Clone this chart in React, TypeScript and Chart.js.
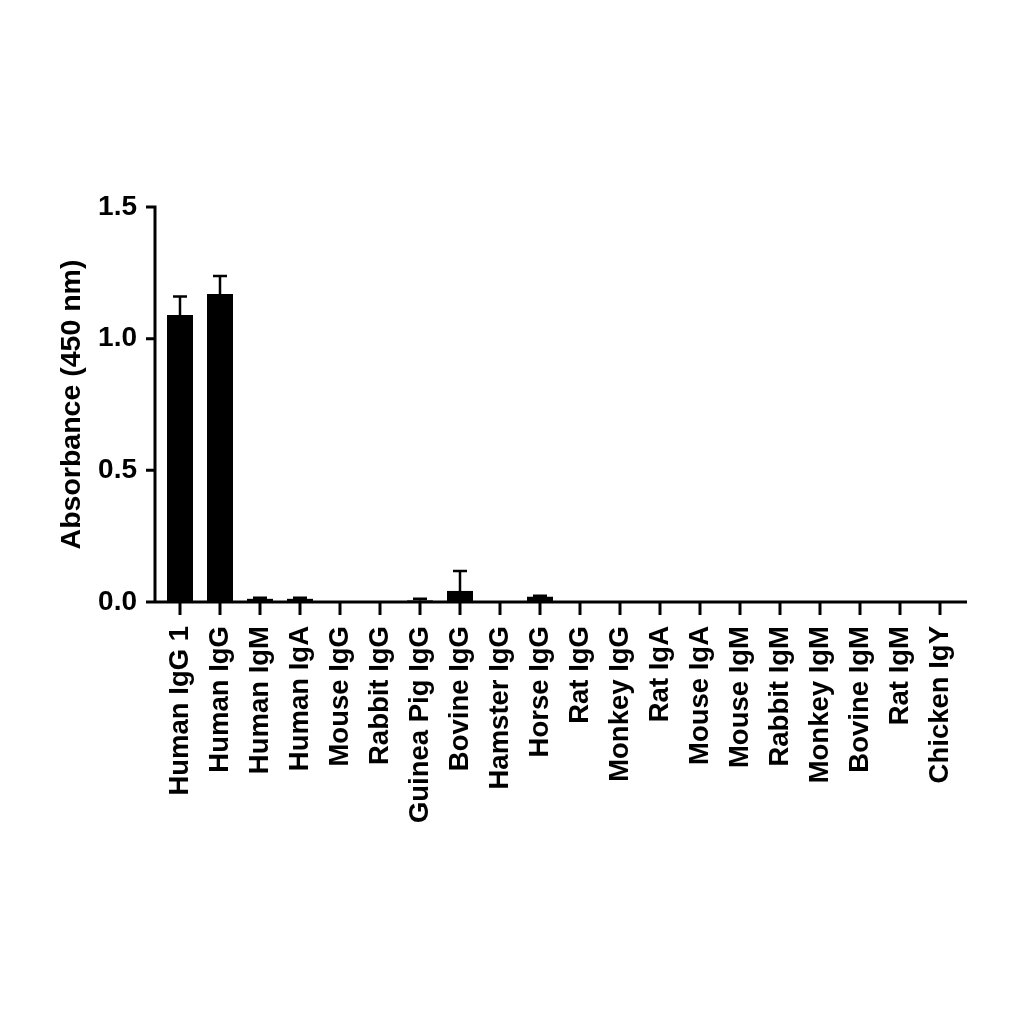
import React, { useEffect, useRef } from "react";
import { Chart, registerables } from "chart.js";

Chart.register(...registerables);

const categories = [
  "Human IgG 1", "Human IgG", "Human IgM", "Human IgA", "Mouse IgG",
  "Rabbit IgG", "Guinea Pig IgG", "Bovine IgG", "Hamster IgG", "Horse IgG",
  "Rat IgG", "Monkey IgG", "Rat IgA", "Mouse IgA", "Mouse IgM",
  "Rabbit IgM", "Monkey IgM", "Bovine IgM", "Rat IgM", "Chicken IgY",
];
const absorbance = [
  1.09, 1.17, 0.012, 0.012, 0, 0, 0.006, 0.042, 0, 0.02,
  0, 0, 0.003, 0, 0, 0, 0, 0, 0, 0,
];
const errorUpper = [
  0.07, 0.068, 0.004, 0.004, 0, 0, 0.006, 0.076, 0, 0.004,
  0, 0, 0, 0, 0, 0, 0, 0, 0, 0,
];
const yTicks = [0, 0.5, 1.0, 1.5];

const FONT = "'Liberation Sans', Arial, sans-serif";

const axesPlugin = {
  id: "customAxes",
  afterDatasetsDraw(chart: any) {
    const ctx = chart.ctx;
    const xs = chart.scales.x;
    const ys = chart.scales.y;
    const area = chart.chartArea;
    const y0 = ys.getPixelForValue(0);
    const yTop = ys.getPixelForValue(yTicks[yTicks.length - 1]);
    const axisX = area.left - 5;
    const axisRight = area.right + 7;
    ctx.save();
    ctx.strokeStyle = "#000";
    ctx.lineCap = "butt";

    // error bars
    const meta = chart.getDatasetMeta(0);
    ctx.lineWidth = 2.5;
    meta.data.forEach((bar: any, i: number) => {
      const e = errorUpper[i];
      if (!e) return;
      const yv = ys.getPixelForValue(absorbance[i]);
      const ye = ys.getPixelForValue(absorbance[i] + e);
      ctx.beginPath();
      ctx.moveTo(bar.x, yv);
      ctx.lineTo(bar.x, ye);
      ctx.moveTo(bar.x - 7, ye);
      ctx.lineTo(bar.x + 7, ye);
      ctx.stroke();
    });

    // axes
    ctx.lineWidth = 3;
    ctx.beginPath();
    ctx.moveTo(axisX, yTop - 1.5);
    ctx.lineTo(axisX, y0 + 1.5);
    ctx.moveTo(axisX - 1.5, y0);
    ctx.lineTo(axisRight, y0);
    // y ticks
    yTicks.forEach((v) => {
      const py = ys.getPixelForValue(v);
      ctx.moveTo(axisX - 9, py);
      ctx.lineTo(axisX, py);
    });
    // x ticks
    categories.forEach((_, i) => {
      const px = xs.getPixelForValue(i);
      ctx.moveTo(px, y0);
      ctx.lineTo(px, y0 + 13);
    });
    ctx.stroke();
    ctx.restore();
  },
};

export default function App() {
  const ref = useRef<HTMLCanvasElement | null>(null);
  useEffect(() => {
    document.body.style.margin = "0";
    const canvas = ref.current!;
    const chart = new Chart(canvas, {
      type: "bar",
      data: {
        labels: categories,
        datasets: [
          {
            data: absorbance,
            backgroundColor: "#000",
            borderWidth: 0,
            barPercentage: 0.65,
            categoryPercentage: 1,
          },
        ],
      },
      options: {
        responsive: false,
        animation: false,
        devicePixelRatio: 1,
        layout: { padding: { left: 0, right: 64, top: 207, bottom: 0 } },
        plugins: { legend: { display: false }, tooltip: { enabled: false } },
        scales: {
          x: {
            type: "category",
            offset: true,
            border: { display: false },
            grid: { display: false, drawTicks: false },
            ticks: {
              color: "#000",
              font: { family: FONT, size: 27.5, weight: "bold" },
              maxRotation: 90,
              minRotation: 90,
              autoSkip: false,
              padding: 24,
            },
            afterFit: (s: any) => {
              s.height = 422;
            },
          },
          y: {
            min: 0,
            max: 1.5,
            border: { display: false },
            grid: { display: false, drawTicks: false },
            ticks: {
              stepSize: 0.5,
              color: "#000",
              font: { family: FONT, size: 28, weight: "bold" },
              padding: 23,
              callback: (v: any) => Number(v).toFixed(1),
            },
            title: {
              display: true,
              text: "Absorbance (450 nm)",
              color: "#000",
              font: { family: FONT, size: 28.5, weight: "bold" },
              padding: { top: 55, bottom: 0 },
            },
            afterFit: (s: any) => {
              s.width = 160;
            },
          },
        },
      },
      plugins: [axesPlugin],
    });
    return () => chart.destroy();
  }, []);
  return (
    <canvas
      ref={ref}
      width={1024}
      height={1024}
      style={{ display: "block", width: 1024, height: 1024 }}
    />
  );
}
